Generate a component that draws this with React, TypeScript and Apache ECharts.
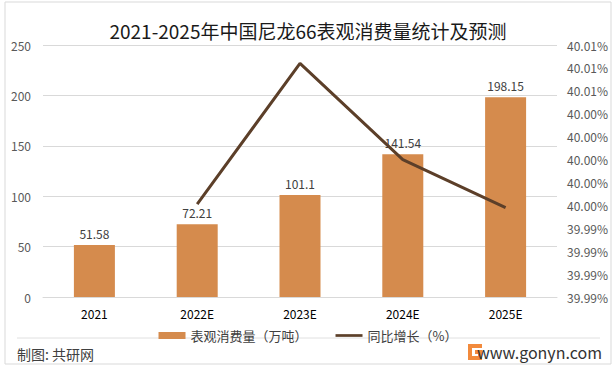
import React, { useEffect, useRef } from "react";
import * as echarts from "echarts";

const categories = ["2021", "2022E", "2023E", "2024E", "2025E"];
const consumption = [51.58, 72.21, 101.1, 141.54, 198.15];
const growth: (number | null)[] = [null, 39.9961, 40.0084, 40.0, 39.9958];
const leftTicks = { min: 0, max: 250, interval: 50 };
const rightTicks = { min: 39.988, max: 40.01, interval: 0.002 };
const titleText = "2021-2025年中国尼龙66表观消费量统计及预测";
const seriesNames = ["表观消费量（万吨）", "同比增长（%）"];
const footerLeft = "制图: 共研网";
const footerRight = "www.gonyn.com";

const FONT = '"Noto Sans CJK SC", "Noto Sans", sans-serif';

echarts.graphic.registerShape(
  "gLogo",
  echarts.graphic.extendPath("M0 0 H14 V4 H4 V12 H10 V10 H7 V6 H14 V16 H0 Z", {})
);

export default function App() {
  const ref = useRef<HTMLDivElement>(null);
  useEffect(() => {
    if (!ref.current) return;
    const chart = echarts.init(ref.current, null, { renderer: "svg" });
    chart.setOption({
      animation: false,
      backgroundColor: "#ffffff",
      textStyle: { fontFamily: FONT },
      title: {
        text: titleText,
        left: "center",
        top: 16,
        textStyle: { fontSize: 19, fontWeight: "normal", color: "#1a1a1a", fontFamily: FONT },
      },
      grid: { left: 43, right: 59, top: 45, bottom: 75, containLabel: false },
      legend: {
        left: "center",
        top: 324,
        itemGap: 28,
        itemWidth: 27,
        itemHeight: 7,
        textStyle: { fontSize: 13, color: "#404040", fontFamily: FONT },
        data: [
          { name: seriesNames[0], icon: "rect" },
          { name: seriesNames[1], icon: "path://M0 0 H30 V3 H0 Z" },
        ],
      },
      xAxis: {
        type: "category",
        data: categories,
        axisTick: { show: false },
        axisLine: { lineStyle: { color: "#d9d9d9" } },
        axisLabel: { color: "#000000", fontSize: 12, margin: 10 },
      },
      yAxis: [
        {
          type: "value",
          min: leftTicks.min,
          max: leftTicks.max,
          interval: leftTicks.interval,
          axisLine: { show: false },
          axisTick: { show: false },
          axisLabel: { color: "#595959", fontSize: 12, margin: 12 },
          splitLine: { lineStyle: { color: "#d9d9d9" } },
        },
        {
          type: "value",
          min: rightTicks.min,
          max: rightTicks.max,
          interval: rightTicks.interval,
          axisLine: { show: false },
          axisTick: { show: false },
          splitLine: { show: false },
          axisLabel: {
            color: "#595959",
            fontSize: 12,
            margin: 10,
            formatter: (v: number) => v.toFixed(2) + "%",
          },
        },
      ],
      series: [
        {
          name: seriesNames[0],
          type: "bar",
          data: consumption,
          barWidth: 41,
          itemStyle: { color: "#d58b4d" },
          label: {
            show: true,
            position: "top",
            distance: 6,
            color: "#404040",
            fontSize: 12,
          },
        },
        {
          name: seriesNames[1],
          type: "line",
          yAxisIndex: 1,
          data: growth,
          symbol: "none",
          showSymbol: false,
          lineStyle: { color: "#5c3f29", width: 3 },
          itemStyle: { color: "#5c3f29" },
        },
      ],
      graphic: [
        {
          type: "rect",
          shape: { x: 5, y: 2, width: 606, height: 362 },
          style: { fill: "none", stroke: "#d9d9d9", lineWidth: 1 },
          silent: true,
        },
        {
          type: "line",
          shape: { x1: 17, y1: 338, x2: 600, y2: 338 },
          style: { stroke: "#e0e0e0", lineWidth: 1 },
          silent: true,
        },
        {
          type: "text",
          x: 17,
          y: 354,
          style: {
            text: footerLeft,
            fontSize: 14,
            fill: "#404040",
            fontFamily: FONT,
            verticalAlign: "middle",
          },
        },
        {
          type: "gLogo",
          x: 468,
          y: 344,
          scaleX: 1,
          scaleY: 1,
          style: { fill: "#f28a3c" },
        },
        {
          type: "text",
          x: 602,
          y: 352,
          style: {
            text: footerRight,
            fontSize: 16,
            fill: "#333333",
            fontFamily: FONT,
            align: "right",
            verticalAlign: "middle",
          },
        },
      ],
    });
    return () => chart.dispose();
  }, []);
  return (
    <div
      ref={ref}
      style={{ position: "fixed", left: 0, top: 0, width: 616, height: 372 }}
    />
  );
}
